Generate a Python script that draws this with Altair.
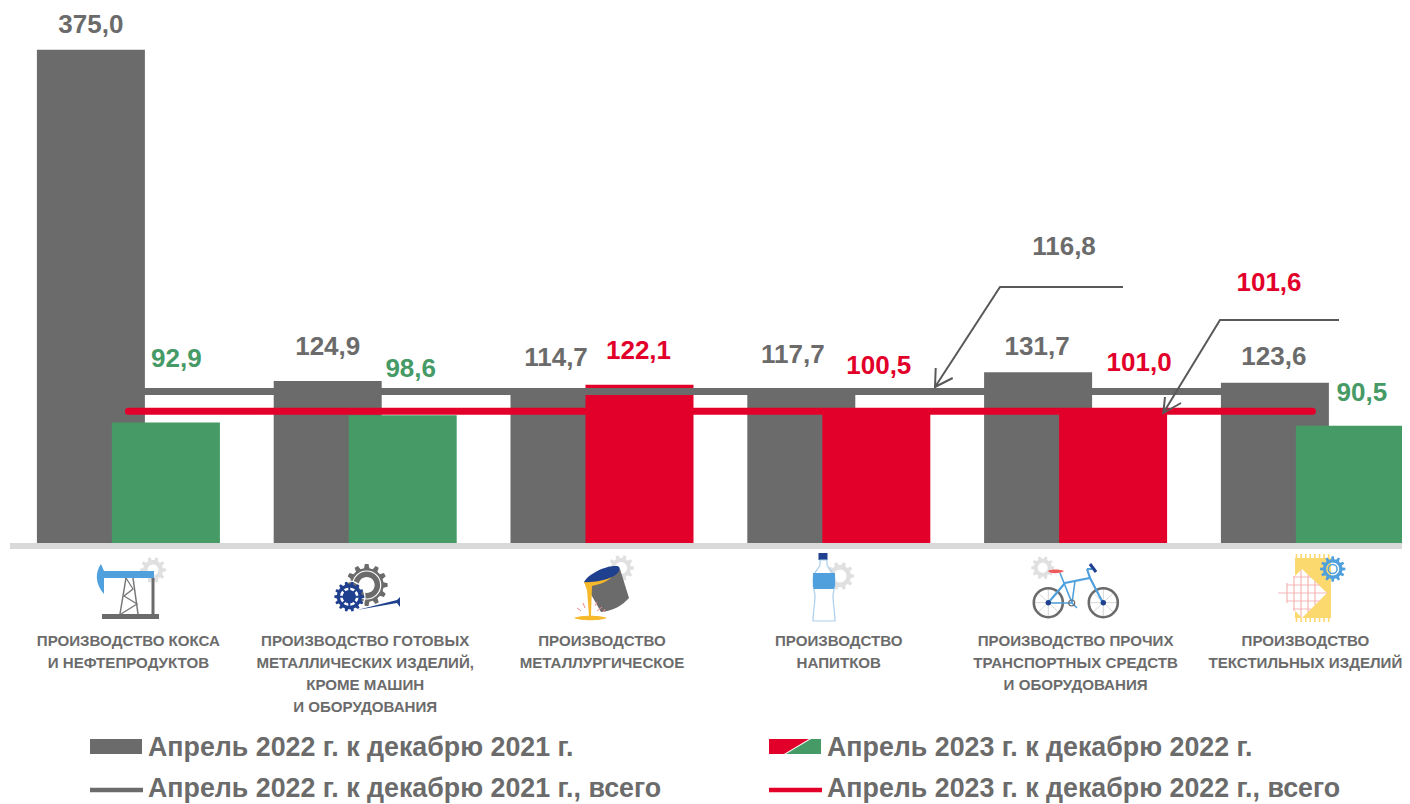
import math
import altair as alt
import pandas as pd

FONT = "Liberation Sans"
GREY, RED, GREEN = "#6b6b6b", "#e2002a", "#459a66"
BLUE, NAVY, LIGHT = "#4fa0dc", "#1f3f8f", "#e0e0e0"

categories = [
    "Производство кокса и нефтепродуктов",
    "Производство готовых металлических изделий",
    "Производство металлургическое",
    "Производство напитков",
    "Производство прочих транспортных средств",
    "Производство текстильных изделий",
]
axis_labels = [
    "ПРОИЗВОДСТВО КОКСА\nИ НЕФТЕПРОДУКТОВ",
    "ПРОИЗВОДСТВО ГОТОВЫХ\nМЕТАЛЛИЧЕСКИХ ИЗДЕЛИЙ,\nКРОМЕ МАШИН\nИ ОБОРУДОВАНИЯ",
    "ПРОИЗВОДСТВО\nМЕТАЛЛУРГИЧЕСКОЕ",
    "ПРОИЗВОДСТВО\nНАПИТКОВ",
    "ПРОИЗВОДСТВО ПРОЧИХ\nТРАНСПОРТНЫХ СРЕДСТВ\nИ ОБОРУДОВАНИЯ",
    "ПРОИЗВОДСТВО\nТЕКСТИЛЬНЫХ ИЗДЕЛИЙ",
]
# Bar heights (the first bar is drawn taller than its 375,0 label)
grey_heights = [380.5, 124.9, 114.7, 117.7, 131.7, 123.6]
grey_labels = ["375,0", "124,9", "114,7", "117,7", "131,7", "123,6"]
colour_values = [92.9, 98.6, 122.1, 100.5, 101.0, 90.5]
colour_labels = ["92,9", "98,6", "122,1", "100,5", "101,0", "90,5"]
colour_fills = [GREEN, GREEN, RED, RED, RED, GREEN]
total_2022 = [116.8] * 6
total_2023 = [101.6] * 6

# label nudges (pixels) relative to each bar's category centre and top
BAND_HALF = 118.4
PX_PER_UNIT = 796 / 614.2
grey_dx = [-37.5, -37.5, -46, -46, -38.5, -38.5]
grey_dy = [-25, -34, -36, -35.5, -25.5, -26]
colour_dx = [48, 45.5, 36.5, 40, 63.5, 49.5]
colour_dy = [-64, -46, -34, -47, -49, -33]
axis_dx = [0, 0, 0, 0, 0, -7]

grey_df = pd.DataFrame(dict(cat=categories, v=grey_heights, label=grey_labels))
grey_df["ox"] = [d + BAND_HALF for d in grey_dx]
grey_df["ly"] = [v - d / PX_PER_UNIT for v, d in zip(grey_heights, grey_dy)]
col_df = pd.DataFrame(dict(cat=categories, v=colour_values, label=colour_labels, c=colour_fills))
col_df["ox"] = [d + BAND_HALF for d in colour_dx]
col_df["ly"] = [v - d / PX_PER_UNIT for v, d in zip(colour_values, colour_dy)]
axis_df = pd.DataFrame(dict(cat=categories, label=axis_labels))
axis_df["ox"] = [d + BAND_HALF for d in axis_dx]
tot_df = pd.DataFrame(dict(cat=categories, a=total_2022, b=total_2023))

X = alt.X("cat:N", sort=categories, axis=None,
          scale=alt.Scale(type="band", domain=categories, range=[2, 1422.8], paddingInner=0, paddingOuter=0))
YS = alt.Scale(domain=[-201.4, 412.8], nice=False, zero=False)
XO = alt.XOffset("ox:Q", scale=None)


def Yf(f):
    return alt.Y(f + ":Q", axis=None, scale=YS)


# ---------- icon drawing helpers (page pixel paths) ----------
def circ(cx, cy, r, sweep=1):
    return (f"M{cx + r},{cy}A{r},{r} 0 1 {sweep} {cx - r},{cy}"
            f"A{r},{r} 0 1 {sweep} {cx + r},{cy}Z")


def gear(cx, cy, R, r, n, hole=0):
    pts = []
    for i in range(n):
        a = 2 * math.pi * i / n
        w = 2 * math.pi / n
        for da, rad in ((-0.30, r), (-0.17, R), (0.17, R), (0.30, r)):
            t = a + da * w
            pts.append(f"{cx + rad * math.cos(t):.2f},{cy + rad * math.sin(t):.2f}")
    d = "M" + "L".join(pts) + "Z"
    if hole:
        d += circ(cx, cy, hole, 0)
    return d


def ln(*pts):
    return "M" + "L".join(f"{x},{y}" for x, y in pts)


def rect(x0, y0, x1, y1):
    return ln((x0, y0), (x1, y0), (x1, y1), (x0, y1)) + "Z"


parts = []


def fill(d, c):
    parts.append((d, c, "transparent", 0))


def stroke(d, c, w):
    parts.append((d, "transparent", c, w))


# oil pump
fill(gear(153, 570, 13, 10, 10, 5.5), LIGHT)
fill(rect(103, 571, 154, 578), BLUE)
fill("M101,564C95,572 95,584 104,594L104,571Z", BLUE)
fill(rect(102, 614, 159, 619), GREY)
fill(rect(151.5, 578, 154.5, 614), GREY)
stroke(ln((126, 578), (120, 614)), "#777777", 1.5)
stroke(ln((133, 578), (138, 614)), "#777777", 1.5)
stroke(ln((126, 578), (133, 589), (124, 596), (137, 604), (121, 614)), "#777777", 1.3)
# gears
fill(gear(366.7, 585, 21, 17, 12, 8), GREY)
stroke(circ(366.7, 585, 14), "#ffffff", 1.2)
stroke(circ(349.3, 596.7, 15.5), "#ffffff", 1.5)
fill(gear(349.3, 596.7, 15, 12.5, 14, 0), NAVY)
stroke(circ(349.3, 596.7, 8), "#ffffff", 2.6)
stroke(ln((349.3, 586), (349.3, 607)) + ln((339, 596.7), (360, 596.7)) + ln((342, 589), (357, 604)) + ln((342, 604), (357, 589)), NAVY, 2)
fill(ln((357, 610), (397, 600), (400, 597), (400, 607), (397, 603)) + "Z", NAVY)
# ladle
fill(gear(621, 568, 13, 10, 10, 6), LIGHT)
fill("M584,582L620,569L629,598C622,606 612,611 601,612Z", GREY)
fill("M584,582C588,574 606,565 617,566C622,567 620,573 612,577C604,581 592,582 584,582Z", NAVY)
fill("M584,582C595,583 606,580 612,577C606,583 596,585 592,586L591,616L589,616L587,590Z", "#f7b92c")
fill("M574,618C580,615 600,615 607,618C600,621 580,621 574,618Z", "#f7b92c")
stroke(ln((577, 608), (581, 611)) + ln((583, 603), (585, 608)) + ln((595, 606), (597, 602)) + ln((597, 611), (602, 607)) + ln((603, 612), (605, 609)), "#f08a8a", 1)
# bottle
fill(gear(840, 576, 14, 11, 10, 6.5), LIGHT)
fill(rect(818.5, 553, 827.5, 560), NAVY)
stroke("M820,560L820,565C818,570 813,572 813,580C813,590 815,592 815,596C815,604 813,612 813,621L835,621C835,612 833,604 833,596C833,592 835,590 835,580C835,572 829,570 827,565L827,560Z", "#a9cfee", 1.2)
fill("M813,573L835,573L835,586C834,588 834,589 833.5,589L814.5,589C814,589 813,588 813,586Z", BLUE)
# bicycle
fill(gear(1042.7, 567.7, 11.5, 9, 10, 5), LIGHT)
for cx in (1048.3, 1103.3):
    stroke(ln((cx - 14, 602.7), (cx + 14, 602.7)) + ln((cx, 589), (cx, 616)) + ln((cx - 10, 593), (cx + 10, 612)) + ln((cx - 10, 612), (cx + 10, 593)), "#cccccc", 0.8)
    stroke(circ(cx, 602.7, 14.5), GREY, 2.6)
stroke(ln((1048, 603), (1065, 583), (1090, 578), (1103, 603)), BLUE, 2.2)
stroke(ln((1090, 578), (1087, 569)) + ln((1087, 569), (1092, 569)), BLUE, 2.2)
stroke(ln((1060, 573), (1072, 603), (1048, 603)) + ln((1075, 581), (1072, 603)) + ln((1072, 603), (1077, 608)), BLUE, 1.6)
stroke(circ(1071.7, 603, 3), GREY, 1.2)
fill(circ(1048.3, 602.7, 2.8) + circ(1103.3, 602.7, 2.8), NAVY)
fill("M1048,571C1050,569 1060,569 1064,571C1060,574 1050,574 1048,571Z", "#ef5a5a")
stroke(ln((1090, 564), (1096, 572)), NAVY, 3)
# textile
fill(rect(1295, 558, 1331, 618), "#fbd96f")
stroke("".join(ln((1296.5 + 4.6 * i, 554), (1296.5 + 4.6 * i, 558)) + ln((1296.5 + 4.6 * i, 618), (1296.5 + 4.6 * i, 622)) for i in range(8)), "#fbd96f", 1.6)
fill(ln((1302, 569), (1327, 593), (1302, 618), (1278, 593)) + "Z", "#ffffff")
stroke(ln((1278, 593), (1327, 593)) + ln((1287, 585), (1320, 585)) + ln((1287, 601), (1320, 601)) + ln((1293, 577), (1311, 577)) + ln((1293, 609), (1311, 609))
       + ln((1287, 583), (1287, 603)) + ln((1294, 576), (1294, 611)) + ln((1301, 570), (1301, 617)) + ln((1308, 575), (1308, 612)) + ln((1315, 581), (1315, 605)), "#f6b5b5", 1.2)
fill(gear(1332.7, 569, 12.7, 9.8, 12, 6.5), BLUE)
stroke(circ(1332.7, 569, 4.4), BLUE, 1.5)
# legend swatches
fill(rect(90, 739, 142, 754), GREY)
fill(ln((769, 739), (809, 739), (784, 754), (769, 754)) + "Z", RED)
fill(ln((811, 739), (821, 739), (821, 754), (786, 754)) + "Z", GREEN)
stroke(ln((90, 790), (143, 790)), GREY, 4.5)
stroke(ln((769, 790), (822, 790)), RED, 4.5)
# call-out leaders
stroke(ln((1123, 287), (1000, 287), (935, 387)) + ln((935.7, 368), (935, 387), (952.7, 378)), "#595959", 2)
stroke(ln((1339, 320), (1220, 320), (1163.3, 413)) + ln((1165, 397), (1163.3, 413), (1181, 403)), "#595959", 2)

parts_df = pd.DataFrame(parts, columns=["d", "f", "s", "w"])
paths = alt.Chart(parts_df).mark_point(size=4, opacity=1, filled=False).encode(
    x=alt.value(-8), y=alt.value(-8),
    shape=alt.Shape("d:N", scale=None),
    fill=alt.Fill("f:N", scale=None),
    stroke=alt.Stroke("s:N", scale=None),
    strokeWidth=alt.StrokeWidth("w:Q", scale=None),
)

grey_bars = alt.Chart(grey_df).mark_bar(width=108, xOffset=-37.5, color=GREY).encode(x=X, y=Yf("v"))
col_bars = alt.Chart(col_df).mark_bar(width=108, xOffset=37.5).encode(x=X, y=Yf("v"), color=alt.Color("c:N", scale=None))
baseline = alt.Chart(pd.DataFrame({"z": [0]})).mark_rule(color="#d9d9d9", strokeWidth=6, yOffset=3).encode(
    x=alt.value(2), x2=alt.value(1394), y=Yf("z"))
line_a = alt.Chart(tot_df).mark_line(color=GREY, strokeWidth=7, strokeCap="round").encode(x=X, y=Yf("a"))
line_b = alt.Chart(tot_df).mark_line(color=RED, strokeWidth=7, strokeCap="round").encode(x=X, y=Yf("b"))

txt = dict(font=FONT, fontWeight="bold", fontSize=26, align="center", baseline="middle")
grey_txt = alt.Chart(grey_df).mark_text(color=GREY, **txt).encode(
    x=X, y=Yf("ly"), text="label:N", xOffset=XO)
col_txt = alt.Chart(col_df).mark_text(**txt).encode(
    x=X, y=Yf("ly"), text="label:N", color=alt.Color("c:N", scale=None), xOffset=XO)
t1 = alt.Chart(pd.DataFrame({"t": ["116,8"]})).mark_text(color=GREY, **txt).encode(
    x=alt.value(1056), y=alt.value(239), text="t:N")
t2 = alt.Chart(pd.DataFrame({"t": ["101,6"]})).mark_text(color=RED, **txt).encode(
    x=alt.value(1261), y=alt.value(274.5), text="t:N")

axis_txt = alt.Chart(axis_df).mark_text(
    font=FONT, fontWeight="bold", fontSize=15.1, color=GREY, align="center", baseline="top",
    lineBreak="\n", lineHeight=22).encode(x=X, xOffset=XO, y=alt.value(626), text="label:N")

legend_df = pd.DataFrame({
    "t": ["Апрель 2022 г. к декабрю 2021 г.", "Апрель 2023 г. к декабрю 2022 г.",
          "Апрель 2022 г. к декабрю 2021 г., всего", "Апрель 2023 г. к декабрю 2022 г., всего"],
    "px": [140, 819, 140, 819],
    "py": [740, 740, 781, 781],
})
legend_txt = alt.Chart(legend_df).mark_text(
    font=FONT, fontWeight="bold", fontSize=26.8, color=GREY, align="left", baseline="middle").encode(
    x=alt.X("px:Q", scale=None), y=alt.Y("py:Q", scale=None), text="t:N")

chart = alt.layer(
    grey_bars, col_bars, baseline, line_a, line_b, paths,
    grey_txt, col_txt, t1, t2, axis_txt, legend_txt,
).properties(width=1394, height=796, padding=0, autosize=alt.AutoSizeParams(type="none")
).configure_view(stroke=None)

chart.save("out.html", embed_options={"renderer": "svg", "actions": False})
